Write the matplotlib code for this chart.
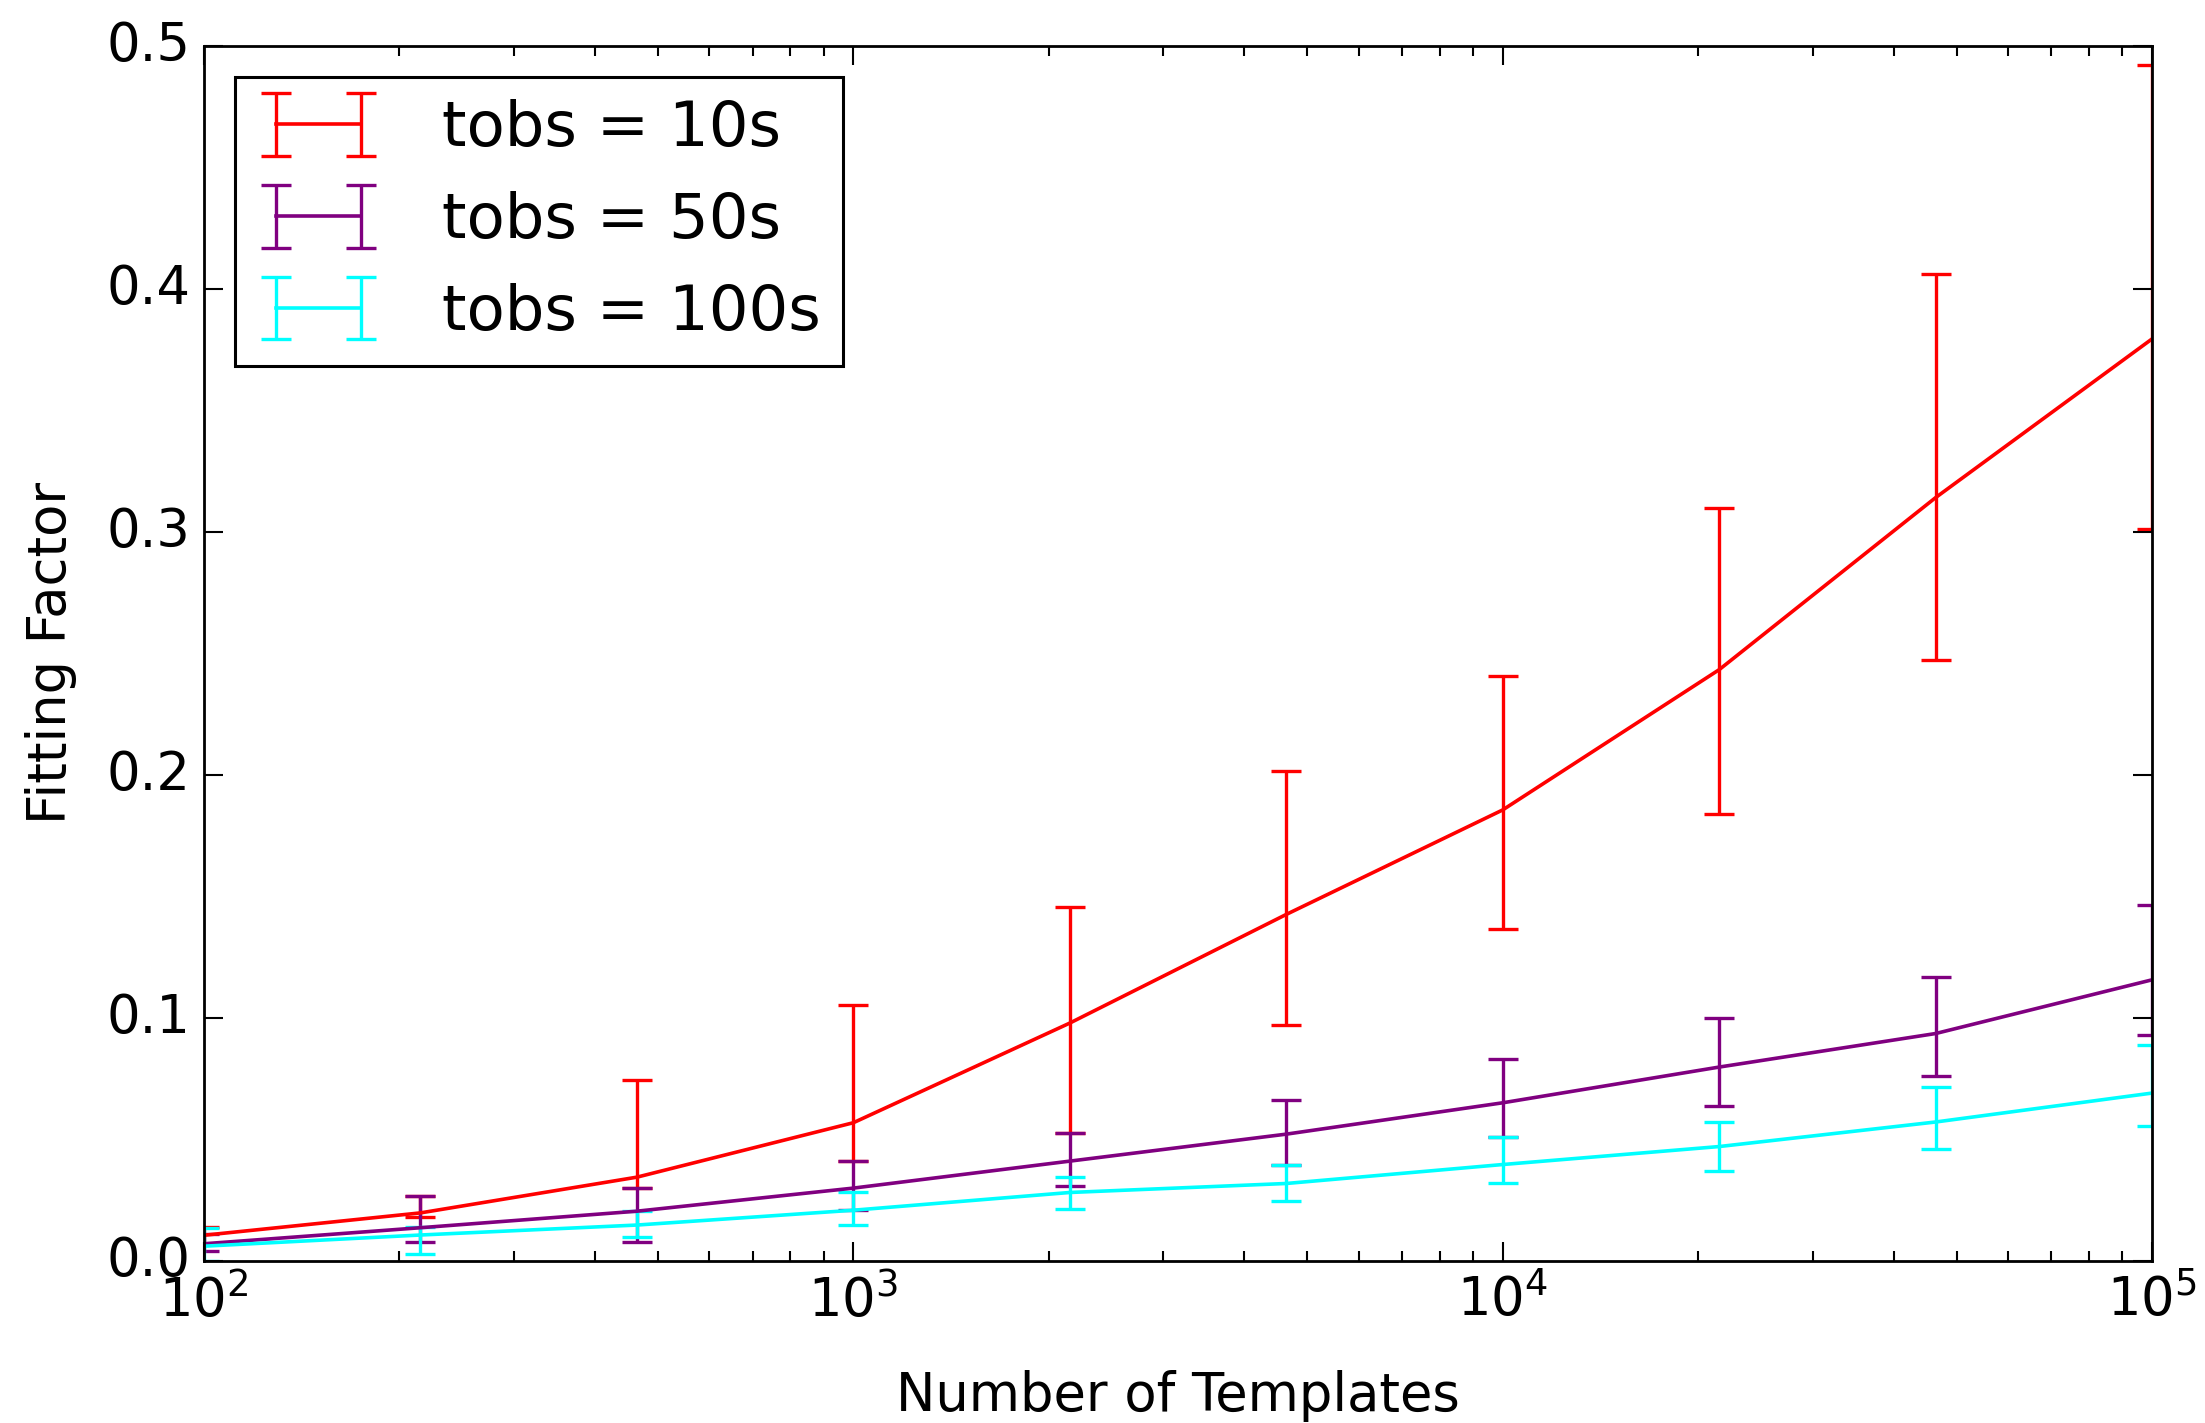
import numpy as np
import matplotlib
matplotlib.use("Agg")
import matplotlib.pyplot as plt

plt.style.use('classic')

n_templates = np.logspace(2, 5, 10)

series_labels = ["tobs = 10s", "tobs = 50s", "tobs = 100s"]
series_colors = ["red", "purple", "cyan"]

red_mean = [0.0105, 0.0197, 0.0344, 0.0568, 0.0978, 0.1425, 0.1855, 0.2432, 0.3140, 0.3793]
red_upper = [0.0140, 0.0265, 0.0745, 0.1053, 0.1455, 0.2017, 0.2405, 0.3099, 0.4058, 0.4918]
red_lower = [0.0070, 0.0180, 0.0300, 0.0410, 0.0525, 0.0969, 0.1364, 0.1837, 0.2470, 0.3010]

purple_mean = [0.0070, 0.0136, 0.0204, 0.0299, 0.0410, 0.0521, 0.0650, 0.0797, 0.0935, 0.1156]
purple_upper = [0.0110, 0.0265, 0.0299, 0.0409, 0.0525, 0.0663, 0.0830, 0.0998, 0.1167, 0.1463]
purple_lower = [0.0040, 0.0076, 0.0076, 0.0210, 0.0307, 0.0396, 0.0510, 0.0638, 0.0759, 0.0929]

cyan_mean = [0.0060, 0.0106, 0.0147, 0.0208, 0.0281, 0.0318, 0.0396, 0.0470, 0.0571, 0.0690]
cyan_upper = [0.0135, 0.0140, 0.0204, 0.0283, 0.0345, 0.0396, 0.0510, 0.0573, 0.0714, 0.0888]
cyan_lower = [0.0000, 0.0027, 0.0097, 0.0149, 0.0214, 0.0244, 0.0319, 0.0371, 0.0459, 0.0554]

y_ticks = [0.0, 0.1, 0.2, 0.3, 0.4, 0.5]

plt.rcParams['font.family'] = ['DejaVu Sans']
plt.rcParams['mathtext.fontset'] = 'dejavusans'
plt.rcParams['axes.linewidth'] = 2.0

fig = plt.figure(figsize=(22.05, 14.23), dpi=100, facecolor='white')
ax = fig.add_axes([0.0925, 0.114, 0.976 - 0.0925, 0.968 - 0.114])
ax.set_facecolor('white')

means = [red_mean, purple_mean, cyan_mean]
uppers = [red_upper, purple_upper, cyan_upper]
lowers = [red_lower, purple_lower, cyan_lower]

for m, up, lo, c, lab in zip(means, uppers, lowers, series_colors, series_labels):
    m = np.array(m)
    err = np.vstack([m - np.array(lo), np.array(up) - m])
    ax.errorbar(n_templates, m, yerr=err, color=c, ecolor=c, lw=2.6,
                elinewidth=2.4, capsize=11, capthick=2.4, label=lab)

ax.set_xscale('log')
ax.set_xlim(1e2, 1e5)
ax.set_ylim(0, 0.5)
ax.set_yticks(y_ticks)
ax.set_yticklabels(["%.1f" % v for v in y_ticks])

ax.tick_params(axis='both', which='major', labelsize=38, length=14, width=1.5,
               direction='in', pad=10, top=True, right=True)
ax.tick_params(axis='both', which='minor', length=7, width=1.5,
               direction='in', top=True, right=True)

ax.set_xlabel("Number of Templates", fontsize=38, labelpad=30)
ax.set_ylabel("Fitting Factor", fontsize=38, labelpad=21)

leg = ax.legend(loc='upper left', fontsize=45, numpoints=2, fancybox=False,
                handlelength=1.95, borderpad=0.36, labelspacing=0.51,
                handletextpad=1.0, borderaxespad=0.5)
leg.get_frame().set_linewidth(2.2)
leg.get_frame().set_edgecolor('black')

fig.savefig("out.png", dpi=100, facecolor='white')
